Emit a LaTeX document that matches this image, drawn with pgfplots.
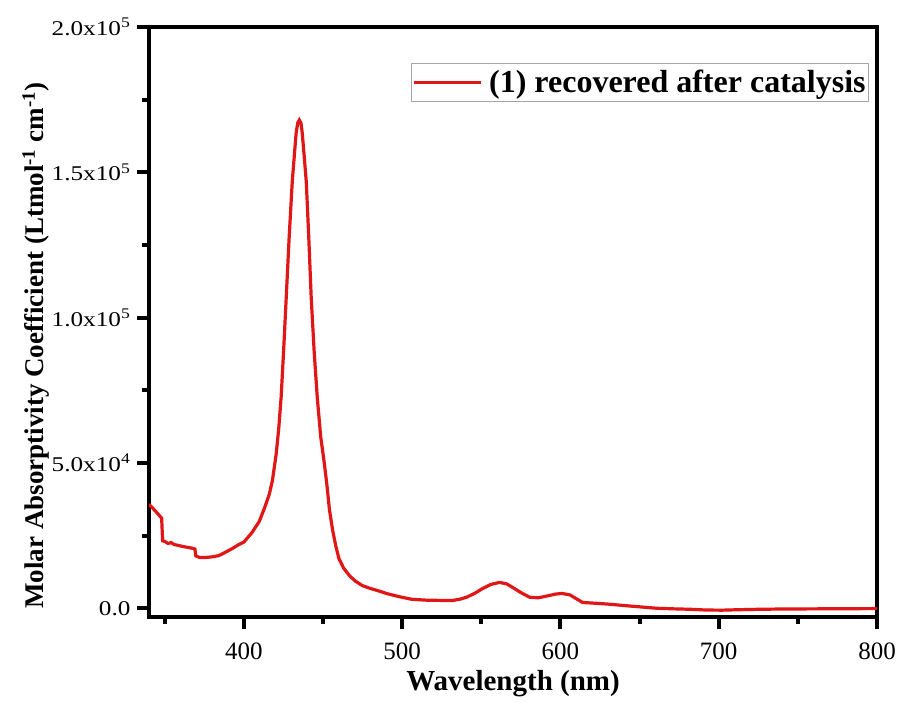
\documentclass[border=0pt]{standalone}
\usepackage{pgfplots}
\pgfplotsset{compat=1.18}
\usepackage{fontspec}
\setmainfont{Liberation Serif}
\usepackage{graphicx}
\definecolor{specred}{RGB}{225,22,22}
\newcommand\yl[1]{\scalebox{1.2}[1]{#1}}
\begin{document}
\begin{tikzpicture}
\begin{axis}[
    scale only axis,
    width=728pt, height=590pt,
    xmin=340, xmax=800,
    ymin=-3000, ymax=200000,
    axis line style={line width=4pt, black},
    every tick/.append style={line width=4pt, black},
    tick align=outside,
    xtick pos=bottom, ytick pos=left,
    major tick length=12pt, minor tick length=7pt,
    xtick={400,500,600,700,800},
    minor xtick={350,450,550,650,750},
    ytick={0,50000,100000,150000,200000},
    minor ytick={25000,75000,125000,175000},
    scaled y ticks=false,
    yticklabels={\yl{0.0},\yl{5.0x10\textsuperscript{4}},\yl{1.0x10\textsuperscript{5}},\yl{1.5x10\textsuperscript{5}},\yl{2.0x10\textsuperscript{5}}},
    /pgf/number format/assume math mode=true,
    x tick label style={font=\fontsize{25}{30}\selectfont, yshift=-10pt},
    y tick label style={font=\fontsize{21}{25}\selectfont, xshift=-3pt},
    xlabel={\textbf{Wavelength (nm)}},
    xlabel style={font=\fontsize{29}{34}\selectfont, at={(axis description cs:0.5,0)}, anchor=base, yshift=-73pt},
    ylabel={\textbf{Molar Absorptivity Coefficient (Ltmol\textsuperscript{-1} cm\textsuperscript{-1})}},
    ylabel style={font=\fontsize{27}{32}\selectfont, at={(axis description cs:-0.136,0.46)}, anchor=south, inner sep=0pt},
    legend style={at={(axis description cs:1,1)}, xshift=-8pt, yshift=-36pt, anchor=north east,
        draw=gray!70, line width=0.8pt, font=\fontsize{32}{37}\selectfont\bfseries,
        inner xsep=1pt, inner ysep=5pt,
        /tikz/every odd column/.append style={column sep=5pt}},
    legend image code/.code={\draw[#1] (0pt,0pt) -- (67pt,0pt);},
]
\addplot[color=specred, line width=3.2pt] coordinates {
(340,35800)(344,33500)(348,31000)(348.6,23200)(350,23000)(352,22300)(354,22600)(356,21900)
(358,21700)(361,21300)(364,21000)(367,20700)(369,20400)(369.6,18000)(372,17500)(376,17500)
(380,17700)(384,18100)(388,19200)(392.5,20500)(396,21700)(400,22800)(405,26000)(409.6,29800)
(413,34500)(416,39200)(418,44000)(420.4,53200)(422,62000)(423.5,72700)(425,88000)(426.7,106800)
(428.5,127000)(430.5,146600)(432,157000)(433,163700)(434,167000)(435,168000)(436,167000)
(436.8,163700)(438,156000)(439.4,146600)(441,127000)(442.5,106800)(444.4,88000)(446.3,72700)
(448.5,59000)(450.8,49800)(452.5,42000)(454,34000)(456,27000)(458,21500)(460,17100)(463,13800)
(466.6,11300)(470,9500)(474.8,7800)(480,6800)(485,6000)(490,5100)(498,4000)(506,3100)
(515,2800)(525,2700)(532,2700)(537,3200)(540.6,3800)(546,5200)(550.8,6800)(556,8200)
(561.5,8900)(566,8400)(569.7,7200)(575,5400)(580.5,3800)(586,3600)(593,4400)(597,4900)
(601,5100)(606,4600)(610,3300)(614,2000)(623,1700)(631,1400)(639,1000)(650,500)(661,0)
(672,-200)(682,-340)(692,-600)(702,-650)(712,-500)(725,-350)(740,-250)(760,-200)(780,-150)(800,-100)
};
\addlegendentry{(1) recovered after catalysis}
\end{axis}
\pgfresetboundingbox
\path ([shift={(-149pt,-85pt)}]current axis.south west) rectangle ([shift={(24pt,27pt)}]current axis.north east);
\end{tikzpicture}
\end{document}
